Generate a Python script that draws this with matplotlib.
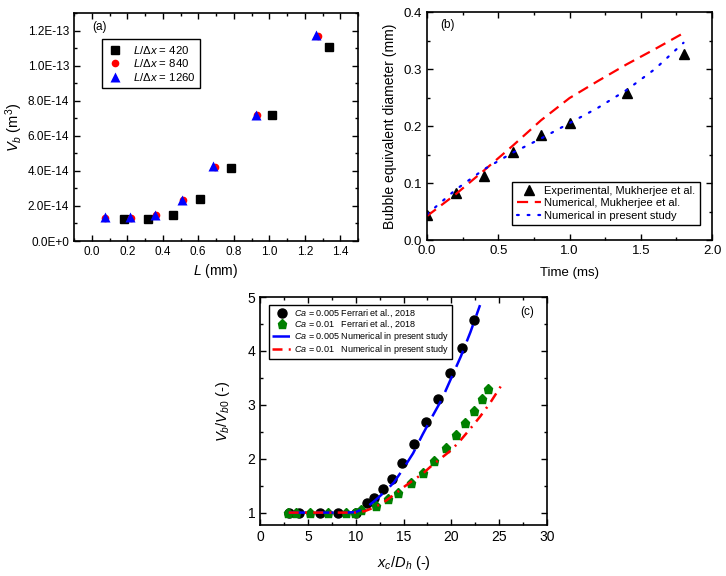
import math

import matplotlib
matplotlib.use("Agg")
import matplotlib.pyplot as plt
from matplotlib.ticker import FuncFormatter, MultipleLocator

plt.rcParams["font.family"] = ["Liberation Sans", "DejaVu Sans"]
plt.rcParams["mathtext.fontset"] = "custom"
plt.rcParams["mathtext.rm"] = "Liberation Sans"
plt.rcParams["mathtext.it"] = "Liberation Sans:italic"
plt.rcParams["mathtext.bf"] = "Liberation Sans:bold"

# (a) bubble volume vs L for three grid resolutions
L_420 = [0.18, 0.318, 0.46, 0.608, 0.782, 1.017, 1.338]
V_420 = [1.25e-14, 1.25e-14, 1.51e-14, 2.38e-14, 4.18e-14, 7.2e-14, 1.105e-13]
L_840 = [0.074, 0.219, 0.36, 0.512, 0.692, 0.93, 1.277]
V_840 = [1.32e-14, 1.32e-14, 1.46e-14, 2.31e-14, 4.23e-14, 7.16e-14, 1.17e-13]
L_1260 = [0.074, 0.217, 0.358, 0.51, 0.685, 0.925, 1.262]
V_1260 = [1.36e-14, 1.36e-14, 1.47e-14, 2.34e-14, 4.26e-14, 7.2e-14, 1.175e-13]
V_ticks = [0, 2e-14, 4e-14, 6e-14, 8e-14, 1e-13, 1.2e-13]

# (b) bubble equivalent diameter vs time
t_exp = [0.0, 0.2, 0.4, 0.6, 0.8, 1.0, 1.4, 1.8]
d_exp = [0.044, 0.083, 0.113, 0.154, 0.184, 0.206, 0.258, 0.326]
t_num = [0.0, 0.2, 0.4, 0.6, 0.8, 1.0, 1.2, 1.4, 1.6, 1.8]
d_muk = [0.042, 0.080, 0.122, 0.165, 0.210, 0.249, 0.279, 0.308, 0.335, 0.363]
d_present = [0.045, 0.088, 0.124, 0.153, 0.178, 0.205, 0.232, 0.263, 0.300, 0.346]

# (c) normalised bubble volume vs position
x_ferrari_005 = [3.0, 4.1, 6.3, 8.2, 10.0, 11.16, 11.9, 12.9, 13.78, 14.82, 16.1, 17.4,
                 18.56, 19.85, 21.1, 22.36]
v_ferrari_005 = [1.0, 1.0, 1.0, 1.0, 1.0, 1.17, 1.27, 1.44, 1.62, 1.92, 2.27, 2.69,
                 3.10, 3.59, 4.05, 4.58]
x_ferrari_01 = [2.96, 3.8, 5.25, 7.15, 9.03, 9.97, 10.57, 12.14, 13.36, 14.47, 15.8,
                17.02, 18.2, 19.4, 20.47, 21.4, 22.4, 23.16, 23.86]
v_ferrari_01 = [1.0, 1.0, 1.0, 1.0, 1.0, 1.0, 1.05, 1.12, 1.25, 1.37, 1.55, 1.74, 1.96,
                2.19, 2.44, 2.67, 2.89, 3.10, 3.30]
x_num_005 = [3, 5, 7, 9, 10, 11, 12, 13, 14, 15, 16, 17, 18, 19, 20, 21, 22, 23]
v_num_005 = [1.0, 1.0, 1.0, 1.0, 1.01, 1.08, 1.22, 1.38, 1.56, 1.82, 2.1, 2.45, 2.78,
             3.1, 3.5, 3.9, 4.35, 4.85]
x_num_01 = [3, 5, 7, 9, 10, 11, 12, 13, 14, 15, 16, 17, 18, 19, 20, 21, 22, 23, 24, 25.3]
v_num_01 = [1.0, 1.0, 1.0, 1.0, 1.0, 1.03, 1.1, 1.2, 1.33, 1.47, 1.6, 1.72, 1.88, 2.02,
            2.16, 2.35, 2.56, 2.78, 3.02, 3.38]

W, H = 726, 576


def px_axes(fig, left, top, right, bottom):
    return fig.add_axes([left / W, 1 - bottom / H, (right - left) / W, (bottom - top) / H])


def style_axes(ax, size):
    for sp in ax.spines.values():
        sp.set_linewidth(1.2)
    ax.tick_params(which="both", direction="in", top=True, right=True, width=1.0,
                   labelsize=size)
    ax.tick_params(which="major", length=4)
    ax.tick_params(which="minor", length=2)


def sci_label(v, pos):
    if abs(v) < 1e-30:
        return "0.0E+0"
    e = int(math.floor(math.log10(abs(v)) + 1e-9))
    return f"{v / 10**e:.1f}E{e}"


def frame_legend(ax, **kw):
    leg = ax.legend(fancybox=False, edgecolor="black", framealpha=1, borderaxespad=0, **kw)
    leg.get_frame().set_linewidth(1.0)
    return leg


fig = plt.figure(figsize=(W / 100, H / 100), dpi=100)

# ---- (a)
ax = px_axes(fig, 74, 13, 358, 241)
ax.plot(L_420, V_420, "s", color="black", ms=5.5, label=r"$L/\Delta x$ = 420")
ax.plot(L_840, V_840, "o", color="red", ms=5.5, mec="none", label=r"$L/\Delta x$ = 840")
ax.plot(L_1260, V_1260, "^", color="blue", ms=6.5, mec="none", label=r"$L/\Delta x$ = 1260")
ax.set_xlim(-0.1, 1.5)
ax.set_ylim(0, 1.3e-13)
ax.set_yticks(V_ticks)
ax.xaxis.set_major_locator(MultipleLocator(0.2))
ax.xaxis.set_minor_locator(MultipleLocator(0.1))
ax.yaxis.set_minor_locator(MultipleLocator(1e-14))
ax.yaxis.set_major_formatter(FuncFormatter(sci_label))
ax.xaxis.set_major_formatter(FuncFormatter(lambda v, p: f"{v:.1f}"))
style_axes(ax, 8.5)
ax.set_xlabel(r"$L$ (mm)", fontsize=10, labelpad=3)
ax.set_ylabel(r"$V_b$ (m$^3$)", fontsize=10.5, labelpad=2)
ax.text(0.063, 0.94, "(a)", transform=ax.transAxes, fontsize=8.5, va="center")
frame_legend(ax, loc="upper left", bbox_to_anchor=(0.099, 0.886), fontsize=8.2,
             handlelength=1.5, handletextpad=0.8, borderpad=0.4, labelspacing=0.15)

# ---- (b)
ax = px_axes(fig, 427, 12, 712, 240)
ax.plot(t_exp, d_exp, "^", color="black", ms=7, label="Experimental, Mukherjee et al.")
ax.plot(t_num, d_muk, color="red", lw=1.6, linestyle=(0, (5, 3)),
        label="Numerical, Mukherjee et al.")
ax.plot(t_num, d_present, color="blue", lw=1.6, linestyle=(0, (0.8, 4)),
        dash_capstyle="round", label="Numerical in present study")
ax.set_xlim(0, 2.0)
ax.set_ylim(0, 0.4)
ax.xaxis.set_major_locator(MultipleLocator(0.5))
ax.xaxis.set_minor_locator(MultipleLocator(0.25))
ax.yaxis.set_major_locator(MultipleLocator(0.1))
ax.yaxis.set_minor_locator(MultipleLocator(0.05))
ax.xaxis.set_major_formatter(FuncFormatter(lambda v, p: f"{v:.1f}"))
ax.yaxis.set_major_formatter(FuncFormatter(lambda v, p: f"{v:.1f}"))
style_axes(ax, 9.5)
ax.set_xlabel("Time (ms)", fontsize=9.5, labelpad=7)
ax.set_ylabel("Bubble equivalent diameter (mm)", fontsize=10, labelpad=5)
ax.text(0.046, 0.943, "(b)", transform=ax.transAxes, fontsize=8.5, va="center")
frame_legend(ax, loc="lower right", bbox_to_anchor=(0.958, 0.066), fontsize=8,
             handlelength=2.2, handletextpad=0.3, borderpad=0.4, labelspacing=0.2)

# ---- (c)
ax = px_axes(fig, 260, 297, 547, 525)
ax.plot(x_ferrari_005, v_ferrari_005, "o", color="black", ms=6.5,
        label=r"$Ca$ = 0.005 Ferrari et al., 2018")
ax.plot(x_ferrari_01, v_ferrari_01, "p", color="green", ms=6.5,
        label=r"$Ca$ = 0.01   Ferrari et al., 2018")
ax.plot(x_num_005, v_num_005, color="blue", lw=1.8, linestyle=(0, (7, 4)),
        label=r"$Ca$ = 0.005 Numerical in present study")
ax.plot(x_num_01, v_num_01, color="red", lw=1.8, linestyle=(0, (4, 2.5, 0.8, 2.5)),
        label=r"$Ca$ = 0.01   Numerical in present study")
ax.set_xlim(0, 30)
ax.set_ylim(0.77, 5)
ax.xaxis.set_major_locator(MultipleLocator(5))
ax.xaxis.set_minor_locator(MultipleLocator(2.5))
ax.yaxis.set_major_locator(MultipleLocator(1))
ax.yaxis.set_minor_locator(MultipleLocator(0.5))
style_axes(ax, 10)
ax.set_xlabel(r"$x_c/D_h$ (-)", fontsize=10.5, labelpad=7)
ax.set_ylabel(r"$V_b/V_{b0}$ (-)", fontsize=10.5, labelpad=11)
ax.text(0.93, 0.934, "(c)", transform=ax.transAxes, fontsize=8.5, va="center", ha="center")
frame_legend(ax, loc="upper left", bbox_to_anchor=(0.031, 0.965), fontsize=6.5,
             handlelength=2.2, handletextpad=0.3, borderpad=0.3, labelspacing=0.0)

fig.savefig("out.png", dpi=100)
